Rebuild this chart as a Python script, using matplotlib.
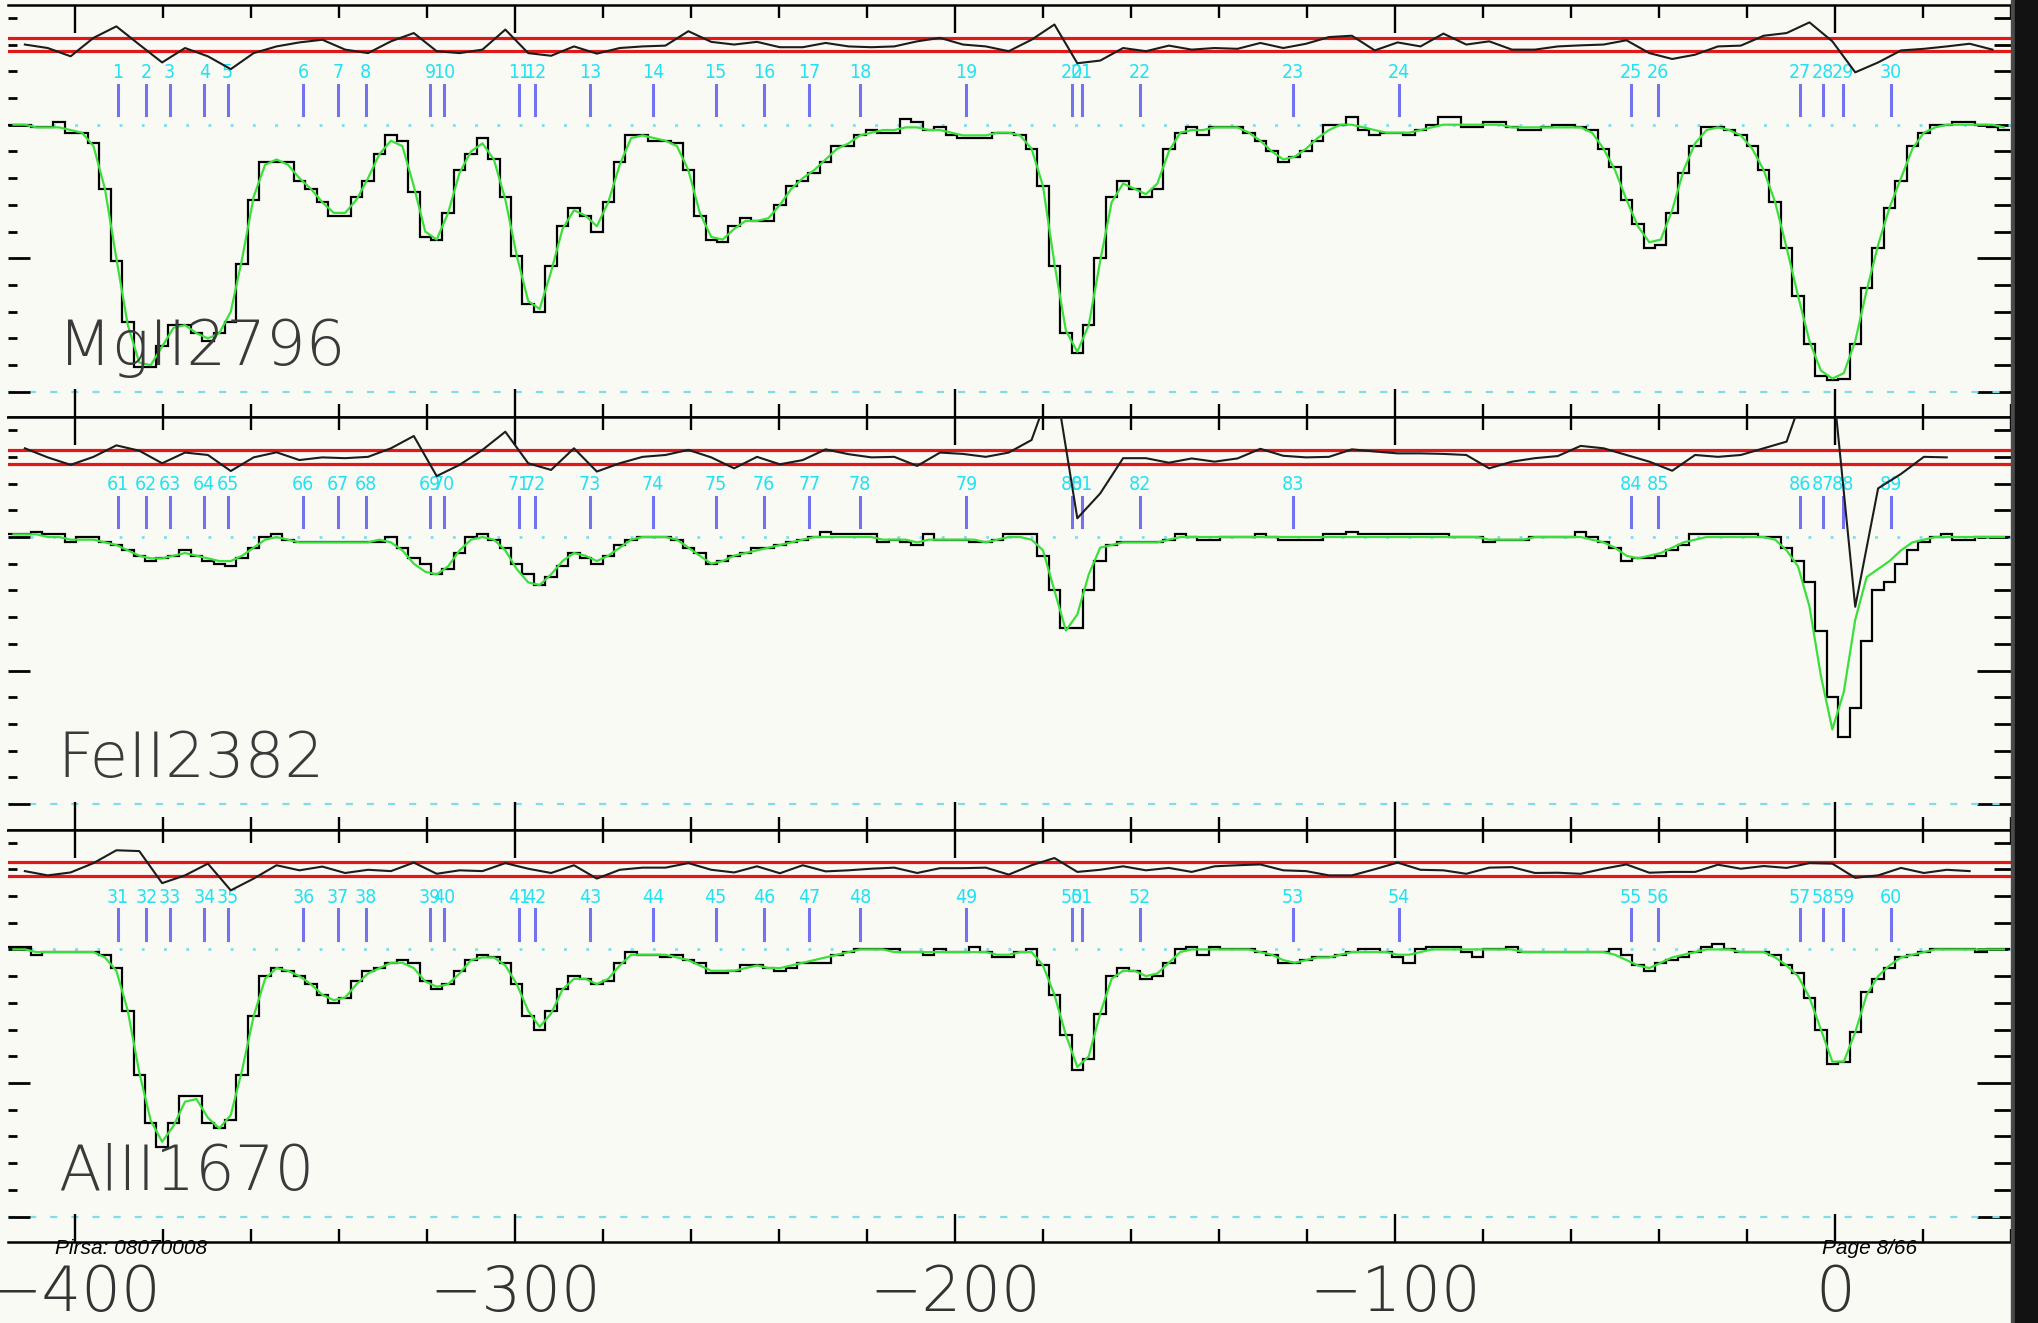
import numpy as np
import matplotlib
matplotlib.use("Agg")
import matplotlib.pyplot as plt
from matplotlib.ticker import MultipleLocator, NullFormatter
from matplotlib.patches import Rectangle

# spectrum binning (km/s)
bin_start = -415.3
bin_width = 2.6

mg_flux = [1.00, 1.00, 0.99, 0.99, 1.01, 0.97, 0.97, 0.93, 0.76, 0.49,
           0.26, 0.095, 0.095, 0.17, 0.25, 0.25, 0.22, 0.19, 0.22, 0.26,
           0.48, 0.72, 0.86, 0.86, 0.86, 0.79, 0.76, 0.71, 0.66, 0.66,
           0.73, 0.79, 0.89, 0.96, 0.94, 0.75, 0.58, 0.57, 0.67, 0.83,
           0.89, 0.95, 0.87, 0.73, 0.51, 0.33, 0.30, 0.47, 0.62, 0.69,
           0.66, 0.60, 0.71, 0.86, 0.96, 0.96, 0.94, 0.94, 0.93, 0.83,
           0.66, 0.57, 0.56, 0.62, 0.65, 0.64, 0.64, 0.70, 0.77, 0.79,
           0.82, 0.86, 0.92, 0.92, 0.96, 0.98, 0.97, 0.97, 1.02, 1.01,
           0.98, 0.99, 0.96, 0.95, 0.95, 0.95, 0.97, 0.97, 0.96, 0.91,
           0.77, 0.47, 0.22, 0.145, 0.25, 0.50, 0.73, 0.79, 0.76, 0.73,
           0.76, 0.91, 0.97, 0.99, 0.96, 0.99, 0.99, 0.99, 0.97, 0.94,
           0.90, 0.86, 0.88, 0.90, 0.94, 1.00, 1.00, 1.03, 0.98, 0.96,
           0.97, 0.97, 0.96, 0.98, 1.00, 1.03, 1.03, 0.99, 0.99, 1.01,
           1.01, 0.99, 0.98, 0.98, 0.99, 1.00, 1.00, 0.99, 0.98, 0.91,
           0.84, 0.72, 0.63, 0.54, 0.55, 0.67, 0.82, 0.92, 0.99, 0.99,
           0.98, 0.96, 0.92, 0.83, 0.71, 0.54, 0.36, 0.18, 0.06, 0.045,
           0.05, 0.18, 0.39, 0.54, 0.69, 0.79, 0.92, 0.97, 1.00, 1.00,
           1.01, 1.01, 1.00, 0.99, 0.98]
mg_model = [1.00, 1.00, 0.99, 0.99, 0.99, 0.98, 0.97, 0.92, 0.76, 0.50,
            0.25, 0.11, 0.10, 0.17, 0.24, 0.25, 0.22, 0.20, 0.22, 0.30,
            0.50, 0.73, 0.85, 0.87, 0.85, 0.80, 0.76, 0.71, 0.67, 0.67,
            0.72, 0.80, 0.89, 0.94, 0.92, 0.77, 0.60, 0.57, 0.67, 0.82,
            0.90, 0.93, 0.87, 0.72, 0.51, 0.34, 0.31, 0.45, 0.61, 0.68,
            0.66, 0.62, 0.71, 0.85, 0.95, 0.96, 0.95, 0.94, 0.92, 0.83,
            0.67, 0.58, 0.57, 0.61, 0.64, 0.64, 0.65, 0.70, 0.76, 0.80,
            0.83, 0.87, 0.91, 0.93, 0.96, 0.97, 0.98, 0.98, 0.99, 0.99,
            0.98, 0.98, 0.97, 0.96, 0.96, 0.96, 0.97, 0.97, 0.96, 0.91,
            0.77, 0.48, 0.23, 0.15, 0.25, 0.49, 0.71, 0.78, 0.76, 0.74,
            0.78, 0.90, 0.97, 0.98, 0.98, 0.99, 0.99, 0.99, 0.97, 0.94,
            0.90, 0.87, 0.88, 0.91, 0.95, 0.98, 1.00, 1.00, 0.99, 0.98,
            0.97, 0.97, 0.97, 0.98, 0.99, 1.00, 1.00, 1.00, 1.00, 1.00,
            1.00, 0.99, 0.99, 0.99, 0.99, 0.99, 0.99, 0.99, 0.97, 0.91,
            0.83, 0.72, 0.62, 0.56, 0.57, 0.68, 0.83, 0.93, 0.98, 0.99,
            0.98, 0.96, 0.91, 0.83, 0.71, 0.54, 0.36, 0.19, 0.08, 0.05,
            0.07, 0.19, 0.38, 0.55, 0.69, 0.80, 0.91, 0.97, 0.99, 1.00,
            1.00, 1.00, 1.00, 1.00, 0.99]

fe_flux = [1.01, 1.01, 1.02, 1.01, 1.01, 0.98, 1.00, 1.00, 0.98, 0.97,
           0.95, 0.93, 0.91, 0.92, 0.93, 0.95, 0.93, 0.91, 0.90, 0.89,
           0.92, 0.96, 1.00, 1.01, 0.99, 0.98, 0.98, 0.98, 0.98, 0.98,
           0.98, 0.98, 0.98, 1.00, 0.96, 0.92, 0.90, 0.86, 0.88, 0.94,
           1.00, 1.01, 0.99, 0.96, 0.90, 0.86, 0.82, 0.85, 0.89, 0.94,
           0.92, 0.90, 0.93, 0.97, 0.99, 1.00, 1.00, 1.00, 0.99, 0.96,
           0.94, 0.90, 0.91, 0.93, 0.94, 0.96, 0.96, 0.97, 0.98, 0.99,
           1.00, 1.02, 1.01, 1.01, 1.01, 1.01, 0.98, 0.99, 0.98, 0.97,
           1.01, 0.99, 0.99, 0.99, 0.98, 0.98, 0.99, 1.01, 1.01, 1.01,
           0.93, 0.80, 0.66, 0.66, 0.80, 0.91, 0.97, 0.98, 0.98, 0.98,
           0.98, 0.99, 1.01, 1.00, 0.99, 0.99, 1.00, 1.00, 1.00, 1.01,
           1.00, 0.99, 0.99, 0.99, 0.99, 1.01, 1.01, 1.02, 1.01, 1.01,
           1.01, 1.01, 1.01, 1.01, 1.01, 1.01, 1.00, 1.00, 1.00, 0.98,
           0.99, 0.99, 0.99, 1.00, 1.00, 1.00, 1.00, 1.02, 1.00, 0.98,
           0.96, 0.91, 0.92, 0.92, 0.93, 0.95, 0.97, 1.01, 1.01, 1.01,
           1.01, 1.01, 1.01, 1.00, 1.00, 0.96, 0.91, 0.83, 0.65, 0.40,
           0.25, 0.36, 0.61, 0.80, 0.83, 0.90, 0.95, 0.98, 1.00, 1.01,
           0.99, 0.99, 1.00, 1.00, 1.00]
fe_model = [1.01, 1.01, 1.01, 1.00, 1.00, 0.99, 0.99, 0.99, 0.98, 0.97,
            0.95, 0.93, 0.92, 0.92, 0.93, 0.94, 0.93, 0.92, 0.91, 0.91,
            0.93, 0.96, 0.99, 1.00, 0.99, 0.98, 0.98, 0.98, 0.98, 0.98,
            0.98, 0.98, 0.99, 0.98, 0.95, 0.90, 0.87, 0.86, 0.89, 0.95,
            0.99, 1.00, 0.99, 0.95, 0.88, 0.83, 0.82, 0.86, 0.91, 0.94,
            0.93, 0.91, 0.93, 0.96, 0.99, 1.00, 1.00, 1.00, 0.99, 0.96,
            0.93, 0.90, 0.91, 0.93, 0.94, 0.95, 0.96, 0.97, 0.98, 0.99,
            1.00, 1.00, 1.00, 1.00, 1.00, 1.00, 0.99, 0.99, 0.99, 0.98,
            0.99, 0.99, 0.99, 0.99, 0.99, 0.98, 0.99, 1.00, 1.00, 0.99,
            0.95, 0.80, 0.65, 0.71, 0.86, 0.96, 0.97, 0.98, 0.98, 0.98,
            0.98, 0.99, 1.00, 1.00, 1.00, 1.00, 1.00, 1.00, 1.00, 1.00,
            1.00, 1.00, 1.00, 1.00, 1.00, 1.00, 1.00, 1.00, 1.00, 1.00,
            1.00, 1.00, 1.00, 1.00, 1.00, 1.00, 1.00, 1.00, 1.00, 0.99,
            0.99, 0.99, 0.99, 1.00, 1.00, 1.00, 1.00, 1.00, 0.99, 0.98,
            0.96, 0.93, 0.92, 0.93, 0.94, 0.96, 0.98, 0.99, 1.00, 1.00,
            1.00, 1.00, 1.00, 1.00, 0.99, 0.95, 0.89, 0.74, 0.48, 0.28,
            0.42, 0.69, 0.85, 0.88, 0.91, 0.95, 0.98, 0.99, 1.00, 1.00,
            1.00, 1.00, 1.00, 1.00, 1.00]

al_flux = [1.01, 1.01, 0.98, 0.99, 0.99, 0.99, 0.99, 0.99, 0.98, 0.93,
           0.77, 0.53, 0.35, 0.26, 0.35, 0.45, 0.45, 0.35, 0.33, 0.36,
           0.53, 0.75, 0.90, 0.93, 0.92, 0.90, 0.87, 0.83, 0.80, 0.82,
           0.88, 0.92, 0.93, 0.95, 0.96, 0.95, 0.88, 0.85, 0.87, 0.92,
           0.96, 0.98, 0.97, 0.95, 0.87, 0.75, 0.70, 0.77, 0.85, 0.90,
           0.89, 0.87, 0.88, 0.95, 0.99, 0.98, 0.98, 0.97, 0.98, 0.96,
           0.95, 0.91, 0.91, 0.92, 0.94, 0.94, 0.93, 0.92, 0.93, 0.95,
           0.95, 0.95, 0.98, 0.99, 1.00, 1.00, 1.00, 1.00, 0.99, 0.99,
           0.98, 1.00, 0.99, 0.99, 1.01, 0.99, 0.97, 0.97, 0.99, 1.00,
           0.94, 0.83, 0.68, 0.55, 0.59, 0.76, 0.90, 0.93, 0.92, 0.89,
           0.90, 0.95, 1.00, 1.01, 0.98, 1.01, 1.00, 1.00, 1.00, 0.99,
           0.98, 0.95, 0.95, 0.96, 0.97, 0.97, 0.98, 0.99, 1.00, 1.00,
           0.99, 0.97, 0.95, 1.00, 1.01, 1.01, 1.01, 0.99, 0.97, 1.00,
           1.00, 1.01, 0.99, 0.99, 0.99, 0.99, 0.99, 0.99, 0.99, 0.99,
           1.00, 0.98, 0.94, 0.92, 0.95, 0.96, 0.97, 0.99, 1.01, 1.02,
           1.00, 0.99, 0.99, 0.99, 0.98, 0.94, 0.91, 0.82, 0.70, 0.57,
           0.58, 0.69, 0.84, 0.89, 0.93, 0.97, 0.98, 0.99, 1.00, 1.00,
           1.00, 1.00, 0.99, 1.00, 1.00]
al_model = [1.00, 1.00, 0.99, 0.99, 0.99, 0.99, 0.99, 0.99, 0.97, 0.92,
            0.77, 0.54, 0.36, 0.28, 0.34, 0.43, 0.44, 0.37, 0.33, 0.38,
            0.55, 0.75, 0.89, 0.93, 0.92, 0.90, 0.87, 0.83, 0.81, 0.82,
            0.87, 0.91, 0.93, 0.95, 0.95, 0.93, 0.88, 0.86, 0.87, 0.91,
            0.96, 0.97, 0.97, 0.94, 0.87, 0.77, 0.71, 0.76, 0.85, 0.89,
            0.89, 0.87, 0.89, 0.94, 0.98, 0.98, 0.98, 0.98, 0.97, 0.96,
            0.94, 0.92, 0.92, 0.92, 0.93, 0.94, 0.93, 0.93, 0.94, 0.95,
            0.96, 0.97, 0.98, 0.99, 1.00, 1.00, 1.00, 0.99, 0.99, 0.99,
            0.99, 0.99, 0.99, 0.99, 0.99, 0.99, 0.98, 0.98, 0.99, 0.99,
            0.94, 0.83, 0.68, 0.56, 0.60, 0.76, 0.89, 0.92, 0.92, 0.90,
            0.91, 0.95, 0.99, 1.00, 1.00, 1.00, 1.00, 1.00, 1.00, 0.99,
            0.98, 0.96, 0.95, 0.96, 0.97, 0.97, 0.98, 0.99, 0.99, 0.99,
            0.99, 0.98, 0.98, 0.99, 1.00, 1.00, 1.00, 1.00, 1.00, 1.00,
            1.00, 1.00, 0.99, 0.99, 0.99, 0.99, 0.99, 0.99, 0.99, 0.99,
            0.98, 0.96, 0.94, 0.93, 0.95, 0.97, 0.98, 0.99, 1.00, 1.00,
            1.00, 0.99, 0.99, 0.99, 0.97, 0.94, 0.90, 0.82, 0.70, 0.58,
            0.58, 0.69, 0.83, 0.90, 0.94, 0.97, 0.98, 0.99, 1.00, 1.00,
            1.00, 1.00, 1.00, 1.00, 1.00]

# normalised residuals, drawn around 1.30 between the two red lines
resid_start = -411.4
resid_step = 5.2
mg_resid = [1.30, 1.287, 1.256, 1.325, 1.368, 1.30, 1.233, 1.287, 1.256, 1.208,
            1.268, 1.293, 1.308, 1.318, 1.281, 1.268, 1.312, 1.343, 1.275, 1.268,
            1.281, 1.356, 1.268, 1.258, 1.293, 1.266, 1.287, 1.293, 1.296, 1.35,
            1.31, 1.30, 1.31, 1.29, 1.29, 1.306, 1.293, 1.29, 1.293, 1.312,
            1.325, 1.30, 1.293, 1.275, 1.318, 1.375, 1.23, 1.24, 1.287, 1.275,
            1.296, 1.281, 1.287, 1.284, 1.306, 1.287, 1.303, 1.328, 1.333, 1.278,
            1.308, 1.293, 1.341, 1.30, 1.312, 1.281, 1.281, 1.293, 1.297, 1.30,
            1.316, 1.268, 1.246, 1.262, 1.293, 1.296, 1.333, 1.343, 1.383, 1.312,
            1.196, 1.233, 1.278, 1.284, 1.293, 1.303, 1.281]
fe_resid = [1.332, 1.298, 1.27, 1.30, 1.343, 1.323, 1.276, 1.316, 1.307, 1.247,
            1.298, 1.317, 1.288, 1.298, 1.295, 1.30, 1.332, 1.378, 1.228, 1.27,
            1.326, 1.394, 1.276, 1.251, 1.332, 1.245, 1.276, 1.30, 1.307, 1.326,
            1.298, 1.257, 1.30, 1.272, 1.288, 1.328, 1.31, 1.298, 1.30, 1.266,
            1.316, 1.311, 1.30, 1.316, 1.363, 1.60, 1.07, 1.163, 1.295, 1.295,
            1.278, 1.294, 1.282, 1.294, 1.33, 1.304, 1.298, 1.30, 1.328, 1.32,
            1.313, 1.313, 1.311, 1.307, 1.257, 1.282, 1.295, 1.303, 1.341, 1.332,
            1.307, 1.282, 1.248, 1.307, 1.30, 1.307, 1.332, 1.357, 1.60, 1.60,
            0.739, 1.182, 1.236, 1.30, 1.298, np.nan, np.nan]
al_resid = [1.293, 1.277, 1.288, 1.323, 1.371, 1.368, 1.248, 1.277, 1.321, 1.221,
            1.265, 1.315, 1.296, 1.31, 1.286, 1.298, 1.293, 1.325, 1.283, 1.296,
            1.293, 1.323, 1.302, 1.286, 1.315, 1.265, 1.298, 1.306, 1.306, 1.323,
            1.298, 1.288, 1.311, 1.285, 1.315, 1.292, 1.296, 1.302, 1.306, 1.286,
            1.304, 1.304, 1.306, 1.28, 1.315, 1.342, 1.29, 1.298, 1.311, 1.296,
            1.305, 1.29, 1.311, 1.315, 1.318, 1.296, 1.293, 1.277, 1.277, 1.30,
            1.325, 1.298, 1.296, 1.283, 1.306, 1.308, 1.286, 1.287, 1.283, 1.302,
            1.318, 1.287, 1.29, 1.29, 1.317, 1.302, 1.312, 1.305, 1.323, 1.321,
            1.268, 1.277, 1.305, 1.286, 1.298, 1.293, np.nan]

# fitted velocity components (km/s) and their numbers in each panel
comp_vel = [-390.2, -383.8, -378.5, -370.6, -365.3, -348.1, -340.2, -333.9, -319.3, -316.1,
            -299.1, -295.5, -282.9, -268.6, -254.4, -243.4, -233.1, -221.6, -197.4, -173.5,
            -171.2, -158.0, -123.2, -99.2, -46.3, -40.3, -8.0, -2.7, 1.9, 12.7]
mg_ids = [1, 2, 3, 4, 5, 6, 7, 8, 9, 10, 11, 12, 13, 14, 15,
          16, 17, 18, 19, 20, 21, 22, 23, 24, 25, 26, 27, 28, 29, 30]
fe_ids = [61, 62, 63, 64, 65, 66, 67, 68, 69, 70, 71, 72, 73, 74, 75,
          76, 77, 78, 79, 80, 81, 82, 83, None, 84, 85, 86, 87, 88, 89]
al_ids = [31, 32, 33, 34, 35, 36, 37, 38, 39, 40, 41, 42, 43, 44, 45,
          46, 47, 48, 49, 50, 51, 52, 53, 54, 55, 56, 57, 58, 59, 60]

panels = [("MgII2796", mg_flux, mg_model, mg_resid, mg_ids),
          ("FeII2382", fe_flux, fe_model, fe_resid, fe_ids),
          ("AlII1670", al_flux, al_model, al_resid, al_ids)]

bg = "#fafaf5"
cyan_line = "#7edde8"
cyan_text = "#22e2f2"
tick_blue = "#7373f2"
green = "#3ae03a"

W, H = 2038, 1323
fig = plt.figure(figsize=(W / 100, H / 100), dpi=100, facecolor=bg)

x_left, x_right = 8, 2012
tops = [5, 417.3, 829.7]
ph = 412.3

for k, (name, flux, model, resid, ids) in enumerate(panels):
    ax = fig.add_axes([x_left / W, 1 - (tops[k] + ph) / H, (x_right - x_left) / W, ph / H])
    ax.set_facecolor(bg)
    ax.set_xlim(-415.23, 40.23)
    ax.set_ylim(-0.095, 1.448)

    edges = bin_start + bin_width * np.arange(len(flux) + 1)
    centers = edges[:-1] + bin_width / 2

    ax.axhline(1.0, color=cyan_line, lw=2, ls=(0, (1, 7)), zorder=1)
    ax.axhline(0.0, color=cyan_line, lw=1.6, ls=(0, (3.2, 6.3)), zorder=1)
    ax.axhline(1.326, color="#e01818", lw=2.3, zorder=2)
    ax.axhline(1.274, color="#e01818", lw=2.3, zorder=2)

    ax.stairs(flux, edges, baseline=None, color="black", lw=1.6, zorder=3)
    ax.plot(centers, model, color=green, lw=1.6, zorder=4)

    rv = resid_start + resid_step * np.arange(len(resid))
    ax.plot(rv, resid, color="#1c1c1c", lw=1.5, zorder=6)

    for v, lab in zip(comp_vel, ids):
        if lab is None:
            continue
        ax.plot([v, v], [1.037, 1.150], color=tick_blue, lw=2.2, zorder=5)
        ax.text(v, 1.195, str(lab), color=cyan_text, ha="center", va="center",
                fontsize=14, fontstretch="condensed", zorder=5)

    ax.text(-403.9, 0.10, name, color="#3a3a3a", fontsize=45, fontweight="light",
            ha="left", va="baseline", zorder=7)

    ax.xaxis.set_major_locator(MultipleLocator(100))
    ax.xaxis.set_minor_locator(MultipleLocator(20))
    ax.yaxis.set_major_locator(MultipleLocator(0.5))
    ax.yaxis.set_minor_locator(MultipleLocator(0.1))
    ax.tick_params(axis="x", which="both", direction="in", top=True, bottom=True,
                   width=1.7, color="black")
    ax.tick_params(axis="x", which="major", length=20)
    ax.tick_params(axis="x", which="minor", length=9.5)
    ax.tick_params(axis="y", which="both", direction="in", left=True, right=False,
                   width=2, labelleft=False)
    ax.tick_params(axis="y", which="major", length=16)
    ax.tick_params(axis="y", which="minor", length=6.5)
    ax.tick_params(axis="x", labelbottom=(k == 2), labelsize=45, pad=16,
                   labelcolor="#333333")
    for lbl in ax.get_xticklabels():
        lbl.set_fontweight("light")

    sec = ax.secondary_yaxis("right")
    sec.yaxis.set_major_locator(MultipleLocator(0.5))
    sec.yaxis.set_minor_locator(MultipleLocator(0.1))
    sec.yaxis.set_major_formatter(NullFormatter())
    sec.tick_params(axis="y", which="both", direction="in", width=2)
    sec.tick_params(axis="y", which="major", length=25)
    sec.tick_params(axis="y", which="minor", length=13)
    sec.spines["right"].set_visible(False)

    ax.spines["left"].set_visible(False)
    ax.spines["right"].set_visible(False)
    ax.spines["top"].set_linewidth(1.8)
    ax.spines["bottom"].set_linewidth(1.8)

# dark edge of the slide on the right
fig.patches.append(Rectangle((2011 / W, 0), 5 / W, 1, transform=fig.transFigure,
                             color="#4a4a4a", zorder=10))
fig.patches.append(Rectangle((2015 / W, 0), 23 / W, 1, transform=fig.transFigure,
                             color="#121212", zorder=10))

fig.text(55 / W, 1 - 1248 / H, "Pirsa: 08070008", fontsize=15, style="italic",
         family="Liberation Sans", ha="left", va="center", color="black")
fig.text(1917 / W, 1 - 1248 / H, "Page 8/66", fontsize=15, style="italic",
         family="Liberation Sans", ha="right", va="center", color="black")

fig.savefig("out.png", dpi=100, facecolor=bg)
